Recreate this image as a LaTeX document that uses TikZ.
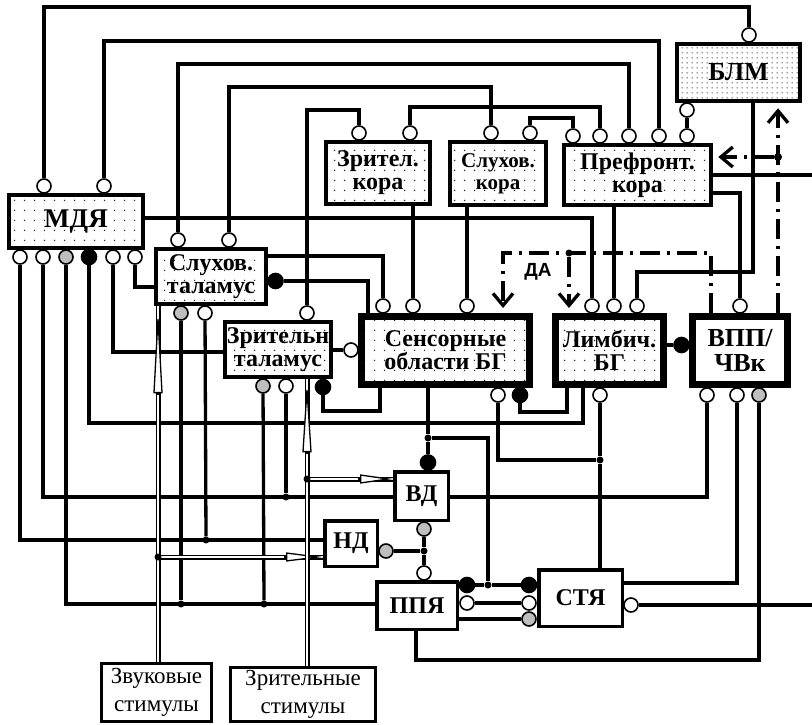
\documentclass[tikz,border=0pt]{standalone}
\usepackage{fontspec}
\setmainfont{Liberation Serif}
\newfontfamily\dafont{Liberation Sans}
\usetikzlibrary{arrows.meta, patterns, calc}

\pgfdeclarepatternformonly{sparsedots}{\pgfpointorigin}{\pgfqpoint{10pt}{10pt}}{\pgfqpoint{10pt}{10pt}}{%
  \pgfpathcircle{\pgfqpoint{5pt}{5pt}}{0.85pt}\pgfusepath{fill}}
\pgfdeclarepatternformonly{densedots}{\pgfpointorigin}{\pgfqpoint{5pt}{5pt}}{\pgfqpoint{5pt}{5pt}}{%
  \pgfpathcircle{\pgfqpoint{2.5pt}{2.5pt}}{0.75pt}\pgfusepath{fill}}

\definecolor{pingrey}{RGB}{190,190,190}

\begin{document}
\begin{tikzpicture}[x=1pt, y=-1pt,
    box/.style={rectangle, draw, line width=4.5pt, inner sep=0pt, align=center, font=\bfseries\fontsize{24}{23}\selectfont},
    plain/.style={fill=white},
    dotbox/.style={preaction={fill=white}, pattern=sparsedots, pattern color=black!85},
    densebox/.style={preaction={fill=white}, pattern=densedots, pattern color=black!85},
    stimbox/.style={box, plain, line width=3pt, font=\fontsize{23}{28}\selectfont},
    pin/.style={circle, draw, line width=1.6pt, minimum size=14pt, inner sep=0pt, fill=white},
    gpin/.style={pin, fill=pingrey},
    bpin/.style={pin, fill=black, minimum size=15pt},
    jdot/.style={circle, fill=black, minimum size=7pt, inner sep=0pt},
    wire/.style={line width=3.3pt},
    da/.style={line width=3.3pt, dash pattern=on 20pt off 7pt on 3pt off 7pt},
    barb/.style={-{Straight Barb[length=12pt, width=20pt]}, shorten >=5pt},
    stim/.style={line width=1.3pt, double=white, double distance=2.4pt},
    stimtip/.style={line width=1.3pt, -{Triangle[open, fill=white, length=#1, width=9pt]}}
  ]
  \useasboundingbox (0,0) rectangle (812,725);
  \fill[white] (0,0) rectangle (812,725);

  % blocks
  \node[box, dotbox, minimum width=134pt, minimum height=53pt, font=\bfseries\fontsize{27}{27}\selectfont] (mdj) at (76,221.5) {МДЯ};
  \node[box, densebox, minimum width=123pt, minimum height=57pt, font=\bfseries\fontsize{26}{26}\selectfont] (blm) at (738.5,72.5) {БЛМ};
  \node[box, dotbox, minimum width=104pt, minimum height=62pt] (zkora) at (378,173) {Зрител.\\кора};
  \node[box, dotbox, minimum width=96pt, minimum height=63pt, font=\bfseries\fontsize{21}{22}\selectfont] (skora) at (498,173.5) {Слухов.\\кора};
  \node[box, dotbox, minimum width=147pt, minimum height=60pt] (pfk) at (637.5,175) {Префронт.\\кора};
  \node[box, dotbox, minimum width=110pt, minimum height=55pt] (stal) at (211,276.5) {Слухов.\\таламус};
  \node[box, dotbox, minimum width=106pt, minimum height=55pt] (ztal) at (278,349.5) {Зрительн\\таламус};
  \node[box, dotbox, line width=7pt, minimum width=168pt, minimum height=68pt] (sbg) at (445.5,350.5) {Сенсорные\\области БГ};
  \node[box, dotbox, line width=7pt, minimum width=108pt, minimum height=68pt] (lbg) at (609.5,350.5) {Лимбич.\\БГ};
  \node[box, plain, line width=7pt, minimum width=95pt, minimum height=68pt, font=\bfseries\fontsize{26}{25}\selectfont] (vpp) at (740,350.5) {ВПП/\\ЧВк};
  \node[box, plain, line width=3.5pt, minimum width=53.5pt, minimum height=48.5pt] (vd) at (421.5,496) {ВД};
  \node[box, plain, line width=3.5pt, minimum width=52.5pt, minimum height=45.5pt] (nd) at (351,543.5) {НД};
  \node[box, plain, line width=3.5pt, minimum width=80.5pt, minimum height=47.5pt] (ppa) at (417,605.5) {ППЯ};
  \node[box, plain, line width=3.5pt, minimum width=83.5pt, minimum height=56.5pt] (sta) at (580.5,598) {СТЯ};
  \node[stimbox, minimum width=110pt, minimum height=58pt] (zvs) at (156.5,692.5) {Звуковые\\стимулы};
  \node[stimbox, minimum width=145pt, minimum height=54pt] (zrs) at (303,694.5) {Зрительные\\стимулы};

  % ports
  \node[pin] (mdjT1) at (44,186) {};
  \node[pin] (mdjT2) at (104,186) {};
  \node[pin] (mdjB1) at (20,257) {};
  \node[pin] (mdjB2) at (43,257) {};
  \node[gpin] (mdjB3) at (66,257) {};
  \node[bpin] (mdjB4) at (89,257) {};
  \node[pin] (mdjB5) at (113,257) {};
  \node[pin] (mdjB6) at (135,257) {};
  \node[pin] (blmT) at (749,35) {};
  \node[pin] (blmB) at (687,110) {};
  \node[pin] (zkT1) at (359,133) {};
  \node[pin] (zkT2) at (410,133) {};
  \node[pin] (skT1) at (491,133) {};
  \node[pin] (skT2) at (530,133) {};
  \node[pin] (pfT1) at (573,136) {};
  \node[pin] (pfT2) at (600,136) {};
  \node[pin] (pfT3) at (629,136) {};
  \node[pin] (pfT4) at (659,136) {};
  \node[pin] (pfT5) at (687,136) {};
  \node[pin] (stT1) at (178,240) {};
  \node[pin] (stT2) at (229,240) {};
  \node[gpin] (stB1) at (181,313) {};
  \node[pin] (stB2) at (205,313) {};
  \node[bpin] (stR) at (275.5,281) {};
  \node[pin] (ztT) at (307,313) {};
  \node[gpin] (ztB1) at (263,386) {};
  \node[pin] (ztB2) at (286,386) {};
  \node[bpin] (ztB3) at (323,387) {};
  \node[pin] (sbT1) at (383,306) {};
  \node[pin] (sbT2) at (413,306) {};
  \node[pin] (sbT3) at (467,306) {};
  \node[pin] (sbL) at (351,350) {};
  \node[pin] (sbB1) at (498,395) {};
  \node[bpin] (sbB2) at (520,395) {};
  \node[pin] (lbT1) at (592,306) {};
  \node[pin] (lbT2) at (614,306) {};
  \node[pin] (lbT3) at (637,306) {};
  \node[pin] (lbB) at (600,395) {};
  \node[bpin] (vpL) at (681.5,345) {};
  \node[pin] (vpT) at (740,306) {};
  \node[pin] (vpB1) at (707,395) {};
  \node[pin] (vpB2) at (737,395) {};
  \node[gpin] (vpB3) at (759,395) {};
  \node[bpin] (vdT) at (428,462.5) {};
  \node[gpin] (vdB) at (424,529) {};
  \node[gpin] (ndR) at (386,551) {};
  \node[pin] (ppT) at (424,573) {};
  \node[bpin] (ppR1) at (467,585) {};
  \node[pin] (ppR2) at (467,603) {};
  \node[bpin] (stjL1) at (529,585) {};
  \node[pin] (stjL2) at (529,603) {};
  \node[gpin] (stjL3) at (529,619) {};
  \node[pin] (stjR) at (631,605) {};

  % junctions
  \node[jdot] (j1) at (181,604) {};
  \node[jdot] (j2) at (264,604) {};
  \node[jdot] (j3) at (206,540) {};
  \node[jdot] (j4) at (286,497) {};
  \node[jdot] (j5) at (428,438) {};
  \node[jdot] (j6) at (488,585) {};
  \node[jdot] (j7) at (424,551) {};
  \node[jdot] (j8) at (600,460) {};
  \node[jdot] (jda) at (569,253) {};
  \node[jdot, minimum size=8pt] (jdb) at (778,157) {};
  \coordinate (edgeA) at (812,175);
  \coordinate (edgeB) at (812,605);

  % upper connections
  \draw[wire] (mdjT1) |- (blmT |- 0,7) -- (blmT);
  \draw[wire] (mdjT2) |- (pfT4 |- 0,41) -- (pfT4);
  \draw[wire] (stT1) |- (pfT3 |- 0,64) -- (pfT3);
  \draw[wire] (stT2) |- (skT1 |- 0,87) -- (skT1);
  \draw[wire] (ztT) |- (zkT1 |- 0,110) -- (zkT1);
  \draw[wire] (zkT2) |- (pfT2 |- 0,107) -- (pfT2);
  \draw[wire] (skT2) |- (pfT1 |- 0,118) -- (pfT1);
  \draw[wire] (pfT5) -- (blmB);
  \draw[wire] (mdj.east |- 0,218) -| (lbT1);
  \draw[wire] (pfk.south -| lbT2) -- (lbT2);
  \draw[wire] (blm.south -| 753,0) |- (lbT3 |- 0,272) -- (lbT3);
  \draw[wire] (pfk.east |- edgeA) -- (edgeA);
  \draw[wire] (pfk.east |- 0,193) -| (vpT);
  \draw[wire] (zkora.south -| sbT2) -- (sbT2);
  \draw[wire] (skora.south -| sbT3) -- (sbT3);
  \draw[wire] (stal.east |- 0,256) -| (sbT1);
  \draw[wire] (stR) -| (sbg.north -| 368,0);
  \draw[wire] (ztal.east |- sbL) -- (sbL);
  \draw[wire] (ztB3) |- (380,411) -- (sbg.south -| 380,0);

  % lower connections
  \draw[wire] (mdjB6) |- (stal.west |- 0,287);
  \draw[wire] (mdjB5) |- (ztal.west |- 0,352);
  \draw[wire] (mdjB4) |- (583,423) -- (lbg.south -| 583,0);
  \draw[wire] (mdjB3) |- (ppa.west |- 0,604);
  \draw[wire] (mdjB2) |- (vd.west |- 0,497);
  \draw[wire] (mdjB1) |- (nd.west |- 0,540);
  \draw[wire] (stB1) -- (j1);
  \draw[wire] (stB2) -- (j3);
  \draw[wire] (ztB1) -- (j2);
  \draw[wire] (ztB2) -- (j4);
  \draw[wire] (sbg.south -| j5) -- (j5) -- (vdT);
  \draw[wire] (j5) -| (j6);
  \draw[wire] (ppR1) -- (j6) -- (stjL1);
  \draw[wire] (ppR2) -- (stjL2);
  \draw[wire] (ppa.east |- stjL3) -- (stjL3);
  \draw[wire] (vdB) -- (j7) -- (ppT);
  \draw[wire] (ndR) -- (j7);
  \draw[wire] (sbB1) |- (j8);
  \draw[wire] (lbB) -- (j8) -- (sta.north -| j8);
  \draw[wire] (sbB2) |- (567,412) -- (lbg.south -| 567,0);
  \draw[wire] (lbg.east |- vpL) -- (vpL);
  \draw[wire] (vpB1) |- (vd.east |- 0,497);
  \draw[wire] (vpB2) |- (sta.east |- 0,583);
  \draw[wire] (vpB3) |- (416,660) -- (ppa.south -| 416,0);
  \draw[wire] (stjR) -- (edgeB);

  % dopamine
  \draw[da, barb] (vpp.north -| 711,0) |- (503,253) -- (sbg.north -| 503,0);
  \draw[da, barb] (jda) -- (lbg.north -| jda);
  \draw[da, barb] (vpp.north -| jdb) -- (blm.south -| jdb);
  \draw[da, barb] (jdb) -- (pfk.east |- jdb);
  \node[font=\dafont\bfseries\fontsize{19}{19}\selectfont] (dalabel) at (538,272) {ДА};

  % stimuli
  \draw[stim] (zvs.north -| 158,0) -- (stal.south -| 158,0);
  \draw[stimtip=87pt] ($(stal.south -| 158,0)+(0,89)$) -- (stal.south -| 158,0);
  \coordinate (jsnd) at (158,557);
  \draw[stim] (jsnd) -- (nd.west |- jsnd);
  \draw[stimtip=37pt] ($(nd.west |- jsnd)+(-39,0)$) -- (nd.west |- jsnd);
  \fill (jsnd) circle (3.5pt);
  \draw[stim] (zrs.north -| 307,0) -- (ztal.south -| 307,0);
  \draw[stimtip=73pt] ($(ztal.south -| 307,0)+(0,75)$) -- (ztal.south -| 307,0);
  \coordinate (jsvd) at (307,479);
  \draw[stim] (jsvd) -- (vd.west |- jsvd);
  \draw[stimtip=33pt] ($(vd.west |- jsvd)+(-35,0)$) -- (vd.west |- jsvd);
  \fill (jsvd) circle (3.5pt);
\end{tikzpicture}
\end{document}
